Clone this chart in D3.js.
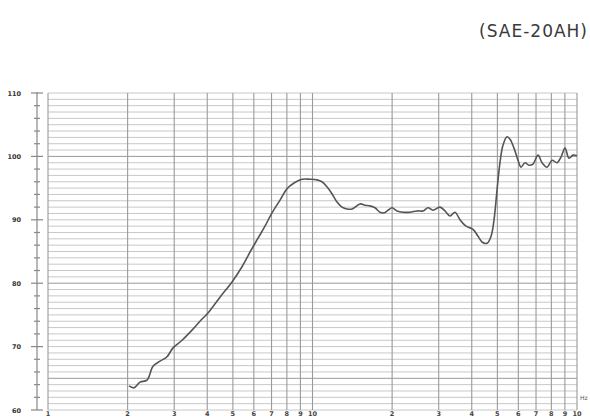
<!DOCTYPE html>
<html><head><meta charset="utf-8">
<script src="https://cdn.jsdelivr.net/npm/d3@7"></script>
<style>html,body{margin:0;padding:0;background:#fff;}svg{display:block;}</style>
</head><body>
<div id="chart"></div>
<script>
const title = "(SAE-20AH)";
const freqTicks = [1,2,3,4,5,6,7,8,9,10,20,30,40,50,60,70,80,90,100];
const freqTickLabels = ["1","2","3","4","5","6","7","8","9","10","2","3","4","5","6","7","8","9","10"];
const dbTicks = [60,70,80,90,100,110];
const dbTickLabels = ["60","70","80","90","100","110"];
const freq = [2.024,2.114,2.228,2.368,2.495,2.651,2.818,2.969,3.211,3.503,3.755,4.026,4.470,4.963,5.414,5.804,6.223,6.613,7.030,7.538,8.010,8.513,9.126,9.783,10.40,10.86,11.34,11.85,12.38,12.93,13.50,14.11,15.12,15.79,16.50,17.23,18.00,18.64,19.29,19.98,20.87,21.99,23.37,24.84,26.17,27.34,28.55,30.34,31.69,33.11,34.57,36.12,38.05,40.45,42.25,43.74,45.69,47.31,48.56,49.85,51.17,52.52,54.38,55.82,57.79,59.83,61.42,63.60,65.85,68.18,71.23,73.75,77.03,80.46,84.04,87.01,90.08,93.29,96.58,100];
const spl = [63.8,63.5,64.4,64.7,66.9,67.7,68.4,69.8,71.0,72.6,74.0,75.3,77.8,80.2,82.6,84.9,87.1,89.0,91.1,93.1,94.9,95.8,96.4,96.4,96.3,96.0,95.2,94.1,92.8,92.0,91.7,91.7,92.5,92.3,92.2,91.9,91.2,91.1,91.5,91.9,91.4,91.2,91.2,91.4,91.4,91.9,91.5,92.0,91.4,90.6,91.2,90.0,89.0,88.5,87.4,86.5,86.3,87.4,90.0,94.7,99.1,101.8,103.1,102.7,101.3,99.4,98.3,99.0,98.6,98.8,100.2,99.0,98.3,99.4,99.0,99.9,101.3,99.7,100.2,100.1];

const W = 590, H = 418;
const svg = d3.select("#chart").append("svg").attr("width", W).attr("height", H);
const x = d3.scaleLog().domain([1,100]).range([48,577]);
const y = d3.scaleLinear().domain([60,110]).range([410,93]);

// title
svg.append("text").attr("x", 588).attr("y", 37).attr("text-anchor","end")
  .attr("font-family","DejaVu Sans, sans-serif").attr("font-size",17).attr("letter-spacing",1)
  .attr("fill","#3a3a3a").text(title);

// horizontal grid (1 dB)
const g = svg.append("g");
const hLines = d3.range(60,111,1);
const darkH = [65,80,100];
g.selectAll("line.h").data(hLines).join("line").attr("class","h")
  .attr("x1",x(1)).attr("x2",x(100)).attr("y1",d=>y(d)).attr("y2",d=>y(d))
  .attr("stroke",d=>darkH.includes(d)?"#999":"#c8c8c8").attr("stroke-width",1);

// vertical grid
g.selectAll("line.v").data(freqTicks).join("line").attr("class","v")
  .attr("x1",d=>x(d)).attr("x2",d=>x(d)).attr("y1",y(110)).attr("y2",y(60))
  .attr("stroke","#9a9a9a").attr("stroke-width",1.1);

// left axis
const ax = 37;
svg.append("line").attr("x1",ax).attr("x2",ax).attr("y1",y(110)-1).attr("y2",y(60))
  .attr("stroke","#888").attr("stroke-width",1.2);
svg.selectAll("line.t").data(d3.range(60,111,2)).join("line").attr("class","t")
  .attr("x1",d=>d%10===0?ax-6:ax-3).attr("x2",d=>d%10===0?ax+6:ax+3)
  .attr("y1",d=>y(d)).attr("y2",d=>y(d)).attr("stroke","#888").attr("stroke-width",1.2);
svg.selectAll("text.yl").data(dbTicks).join("text").attr("class","yl")
  .attr("x",21).attr("y",d=>y(d)+2.5).attr("text-anchor","end")
  .attr("font-family","DejaVu Sans, sans-serif").attr("font-size",6.5).attr("font-weight","bold")
  .attr("fill","#333").text((d,i)=>dbTickLabels[i]);

// x labels
svg.selectAll("text.xl").data(freqTicks).join("text").attr("class","xl")
  .attr("x",d=>x(d)).attr("y",416).attr("text-anchor","middle")
  .attr("font-family","DejaVu Sans, sans-serif").attr("font-size",6.5).attr("font-weight","bold")
  .attr("fill","#444").text((d,i)=>freqTickLabels[i]);
svg.append("text").attr("x",580).attr("y",400)
  .attr("font-family","DejaVu Sans, sans-serif").attr("font-size",6).attr("fill","#555").text("Hz");

// curve
const line = d3.line().x((d,i)=>x(freq[i])).y(d=>y(d)).curve(d3.curveCatmullRom);
svg.append("path").datum(spl).attr("d",line).attr("fill","none")
  .attr("stroke","#555").attr("stroke-width",1.6).attr("stroke-linejoin","round");
</script>
</body></html>
